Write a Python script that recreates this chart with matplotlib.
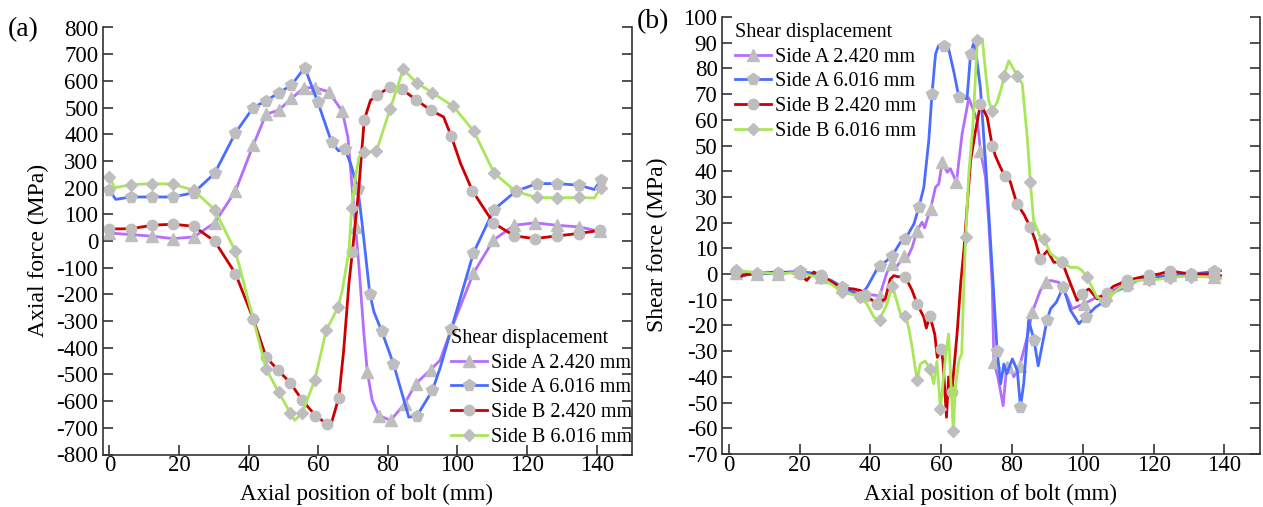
import matplotlib
matplotlib.use("Agg")
import matplotlib.pyplot as plt

plt.rcParams['font.family'] = ['Liberation Serif', 'DejaVu Serif']
plt.rcParams['axes.unicode_minus'] = False

# ---------------- colours / labels ----------------
series_labels = ["Side A 2.420 mm", "Side A 6.016 mm", "Side B 2.420 mm", "Side B 6.016 mm"]
line_colors = ["#b46eff", "#4a6cff", "#cc0000", "#a8e65a"]
marker_shapes = ["^", "p", "o", "D"]
marker_sizes = [8.5, 8.5, 7.5, 6.5]
marker_color = "#bebebe"

x_ticks = [0, 20, 40, 60, 80, 100, 120, 140]
y_ticks_a = list(range(-800, 801, 100))
y_ticks_b = list(range(-70, 101, 10))

# ---------------- (a) axial force ----------------
a_x_A242 = [0, 6.2, 12.2, 18.2, 24.2, 30.2, 36.2, 41.3, 45, 48.6, 52.3, 55.8, 59, 63, 66.9, 68.5, 70.7, 71.7,
            73.1, 74.1, 75.5, 77.4, 80.8, 84.8, 88, 92.3, 95, 98.2, 104.6, 110.3, 116.3, 122.3, 128.5, 134.8, 141]
a_y_A242 = [30, 24, 18, 9, 15, 68, 187, 359, 475, 490, 534, 574, 575, 559, 486, 390, 52, -97,
            -347, -491, -597, -654, -672, -610, -535, -482, -447, -331, -120, 3, 59, 68, 59, 53, 36]
a_m_A242 = [0, 1, 2, 3, 4, 5, 6, 7, 8, 9, 10, 11, 12, 13, 14, 16, 19, 21, 22, 23, 24, 25, 28, 29, 30, 31, 32, 33, 34]

a_x_A6 = [0, 1.8, 6.2, 12.2, 18.2, 24.2, 30.2, 36.2, 41.3, 45, 48.6, 52.3, 56.1, 59.9, 63.8, 65.8, 67.6, 69.3,
          71.4, 72.6, 74.8, 76, 78.2, 81.6, 86, 88.3, 92.8, 95.1, 98.2, 104.6, 110.5, 116.7, 122.8, 128.7, 135,
          139.3, 141.2]
a_y_A6 = [190, 156, 165, 165, 165, 181, 253, 405, 500, 525, 555, 584, 650, 519, 371, 338, 344, 290,
          193, 65, -197, -266, -337, -460, -660, -656, -560, -472, -331, -44, 118, 186, 215, 215, 209,
          193, 228]
a_m_A6 = [0, 2, 3, 4, 5, 6, 7, 8, 9, 10, 11, 12, 13, 14, 16, 18, 20, 22, 23, 25, 26, 28, 29, 30, 31, 32, 33, 34, 36]

a_x_B242 = [0, 6.2, 12.2, 18.2, 24.2, 30.2, 36.2, 41.3, 45, 48.5, 52, 55.4, 59.2, 62.6, 63.6, 65.9, 67.3, 68.8,
            69.8, 71.6, 73.2, 75, 77, 80.6, 84.1, 88, 92.3, 96, 98.2, 100.9, 104.3, 110.3, 116.3, 122.3, 128.5,
            134.8, 141]
a_y_B242 = [45, 46, 59, 63, 55, 0, -122, -291, -435, -485, -532, -597, -654, -687, -690, -587, -410, -160,
            -41, 190, 453, 527, 546, 578, 568, 530, 490, 465, 393, 290, 188, 68, 19, 9, 19,
            28, 40]
a_m_B242 = [0, 1, 2, 3, 4, 5, 6, 7, 8, 9, 10, 11, 12, 13, 15, 18, 20, 22, 23, 24, 25, 26, 28, 30, 31, 32, 33, 34, 35, 36]

a_x_B6 = [0, 1.5, 6.2, 12.2, 18.2, 24.2, 30.2, 36.2, 41.3, 45, 48.6, 52, 53.2, 55.4, 59, 62.3, 65.7, 66.9,
          68.8, 69.6, 70.7, 71.7, 73.1, 76.7, 80.6, 84.4, 88.3, 92.8, 98.8, 104.7, 110.5, 116.7, 122.8, 128.7,
          135, 139.3, 141.2]
a_y_B6 = [238, 200, 211, 215, 213, 190, 118, -39, -291, -479, -566, -645, -672, -645, -520, -335, -247, -185,
          -38, 125, 240, 315, 334, 336, 493, 643, 593, 555, 505, 411, 255, 186, 163, 162,
          163, 161, 200]
a_m_B6 = [0, 2, 3, 4, 5, 6, 7, 8, 9, 10, 11, 13, 14, 15, 16, 19, 22, 23, 24, 25, 26, 27, 28, 29, 30, 31, 32, 33, 34, 36]

# ---------------- (b) shear force ----------------
b_x_A242 = [2, 5, 8, 11, 14, 17, 20, 23, 26, 29, 32, 35, 38, 40, 42.6, 44.7, 46.1, 47.5, 49.4, 50.5,
            51.8, 53.2, 54.6, 55.3, 57, 58.4, 59.3, 60.3, 61.7, 62.6, 64.3, 65.9, 67.8, 70.2, 71.1,
            72.5, 73.4, 74.4, 74.9, 76, 77.5, 78.5, 79.6, 80.5, 82.2, 84.3, 85.7, 88, 89.5, 90.9,
            93.2, 95.6, 97, 100.3, 104, 106.5, 109, 112.5, 115, 118.6, 121, 124.7, 127.5, 130.7, 134, 137, 138.5]
b_y_A242 = [0.5, 0, 0, 0.5, 0, 0.5, 1, 0, -1, -3, -5, -6, -8, -8, -8.5, 0.7, 4, 3, 6.9, 6.5,
            10.4, 16.9, 20.2, 18, 25.4, 33.8, 35, 43.5, 39.6, 41, 35.7, 54.5, 68.5, 59.7, 48,
            37.7, 20.8, -3.8, -34.3, -40, -51.2, -36, -36.3, -40, -35.6, -24.6, -14.9, -6.4, -3.2, -2.5,
            -3.2, -9, -13.5, -11.6, -9, -8, -6, -3.5, -2.5, -1.5, -1, -0.5, 0, 0, -0.5, -1, -1.2]
b_m_A242 = [0, 2, 4, 6, 8, 10, 12, 14, 16, 18, 21, 24, 27, 30, 34, 38, 41, 44, 46, 48, 53, 55, 57, 59, 61, 63, 65]

b_x_A6 = [2, 3.5, 5, 8, 11, 14, 17, 20, 23, 26,
          29, 32, 35, 37.2, 39.1, 41.9, 42.6, 44.7, 46.2, 48.5,
          49.9, 52.3, 53.7, 55.1, 56.5, 57.4, 58.4, 59.3, 60.7, 62.1,
          63.6, 65, 67.3, 68.3, 69.4, 71.1, 73, 74.5, 75.8, 76.8,
          77.7, 78.5, 80.1, 81.5, 82.4, 83.3, 84.7, 86.2, 87.4, 89.9,
          90.9, 92.5, 94.5, 96.5, 98.9, 100.8, 103.5, 106.4, 109, 112.5,
          115.5, 118.6, 121.5, 124.7, 127.5, 130.7, 134, 137, 138.9]
b_y_A6 = [0.5, -1, -0.3, 0, 0.3, 0.3, 0.8, 1, 0.5, -1,
          -2.5, -5, -7, -8.4, -5, 2, 3, 5.3, 7.2, 12.4,
          13.7, 19.5, 26, 33.8, 52, 70, 85.6, 89, 88.8, 87.6,
          78.5, 68.8, 68.2, 85.6, 90.9, 72, 33.5, 0, -29.8, -42.7,
          -35, -38.8, -33, -37.5, -51.8, -42.7, -18, -25.5, -35.7, -17.9,
          -13.5, -11, -5, -14, -19.3, -16.8, -13, -10.3, -7, -4.5,
          -2.5, -1.3, -1, -0.5, 0, 0, 0.5, 1, 1.3]
b_m_A6 = [0, 3, 5, 7, 9, 11, 13, 16, 18, 20, 22, 25, 28, 31, 33, 38, 44, 47, 49, 52, 55, 57, 59, 61, 63, 65, 67]

b_x_B242 = [2, 3.5, 6, 8, 11, 14, 17, 20, 22, 24,
            26, 29, 32, 35.3, 37.2, 38.5, 40, 41.9, 44.2, 45.6,
            46.6, 47.6, 49.9, 51.8, 53.2, 55.1, 55.8, 56.8, 58.2, 58.9,
            60, 60.5, 61.5, 62.1, 63, 64.5, 65.5, 66.4, 68.3, 69.7,
            71.1, 73, 74.4, 75.3, 76.7, 77.9, 79.5, 81.4, 83.3, 85.2,
            86.6, 88, 90, 91.8, 94.2, 96, 98.4, 99.8, 101.7, 104.1,
            106.7, 108.6, 112.5, 115.5, 118.6, 121.5, 124.7, 127.5, 130.7, 134,
            137, 138.9]
b_y_B242 = [1, -0.6, 0, 0, 0.7, 0.5, 0.7, 0, -2.5, 0.8,
            -0.5, -3, -5.5, -5.8, -6.4, -8, -9.7, -11.6, -9.7, -2,
            -0.6, -1, -1.2, -6.4, -11.6, -16.8, -21, -16.2, -23.5, -32.4,
            -29, -34, -55.7, -40, -46, -23, -3.8, 9.1, 44, 55.8,
            66.2, 61, 50, 46, 41.6, 38.3, 36, 27.3, 23.4, 18.2,
            13, 5.9, 9.1, 4.6, 4.5, -1.9, -10.3, -7.7, -5.8, -9.7,
            -7.4, -4.8, -2.5, -1.5, -0.5, 0, 1.3, 0.6, 0, 0,
            0, -0.6]
b_m_B242 = [0, 3, 5, 7, 10, 12, 15, 17, 22, 24, 27, 30, 34, 40, 42, 45, 47, 49, 51, 54, 57, 60, 62, 64, 66, 68, 70]

b_x_B6 = [2, 5, 8, 11, 14, 17, 20, 23, 26, 29,
          32, 35, 37.2, 39, 41, 42.6, 44.7, 46.2, 48.5, 49.9,
          50.8, 51.8, 53.2, 54.1, 55.5, 56.8, 57.9, 58.8, 59.8, 61.2,
          62.1, 63.4, 64, 65, 65.8, 66.4, 66.9, 67.8, 69, 70.2,
          71.6, 72.5, 73.4, 74.4, 75.8, 77.2, 77.7, 79.1, 81.5, 82.9,
          84.3, 85.2, 86.1, 88, 89, 90.9, 94.2, 96.5, 98.4, 99.7,
          101.2, 104, 106.4, 109, 112.5, 115.5, 118.6, 121.5, 124.7, 127.5,
          130.7, 134, 137, 138.9]
b_y_B6 = [1.5, 1, 0.5, 0.5, 0, 0.5, 0.5, -0.5, -1.5, -4,
          -7, -8, -9, -11.6, -16.8, -17.7, -11.6, -4.5, -15.5, -16.2,
          -20.7, -28.5, -41.4, -35, -33.8, -36.9, -42.7, -34, -52.5, -32.4,
          -23.3, -60.9, -44, -33.7, -31, -3.8, 14.3, 39, 58.4, 90.9,
          91.5, 79.2, 67.5, 63.6, 66.8, 73.3, 77.2, 83, 77.2, 74,
          53.2, 35.7, 20.8, 14.3, 13.7, 7.9, 4.6, 2.6, 2.6, 1.5,
          -1.2, -9, -10.3, -7, -3.5, -2.5, -2.2, -2, -1.5, -1,
          -1, -1, -1.3, -1.9]
b_m_B6 = [0, 2, 4, 6, 8, 10, 12, 15, 17, 19, 22, 25, 28, 31, 36, 39, 43, 46, 48, 51, 54, 56, 60, 62, 64, 66, 68, 70, 72]

panel_a = [(a_x_A242, a_y_A242, a_m_A242), (a_x_A6, a_y_A6, a_m_A6),
           (a_x_B242, a_y_B242, a_m_B242), (a_x_B6, a_y_B6, a_m_B6)]
panel_b = [(b_x_A242, b_y_A242, b_m_A242), (b_x_A6, b_y_A6, b_m_A6),
           (b_x_B242, b_y_B242, b_m_B242), (b_x_B6, b_y_B6, b_m_B6)]

W, H = 1263, 507
fig = plt.figure(figsize=(W / 100, H / 100), dpi=100)


def px_axes(l, t, r, b):
    return fig.add_axes([l / W, 1 - b / H, (r - l) / W, (b - t) / H])


ax_a = px_axes(102.5, 27.5, 631.5, 454.5)
ax_b = px_axes(721.7, 17, 1259.8, 454)

for ax, data in ((ax_a, panel_a), (ax_b, panel_b)):
    for (xs, ys, mk), col, shp, ms, lab in zip(data, line_colors, marker_shapes, marker_sizes, series_labels):
        ax.plot(xs, ys, color=col, lw=2.0, marker=shp, markersize=ms, markevery=mk,
                markerfacecolor=marker_color, markeredgecolor=marker_color, label=lab)

TICK_FS = 16.5
LABEL_FS = 16.5
for ax in (ax_a, ax_b):
    ax.set_xlim(-2, 150)
    ax.set_xticks(x_ticks)
    ax.spines['top'].set_visible(False)
    for s in ('left', 'right', 'bottom'):
        ax.spines[s].set_linewidth(1.2)
        ax.spines[s].set_color('#333333')
    ax.tick_params(direction='in', length=7, width=1.2, colors='#333333', labelcolor='black',
                   labelsize=TICK_FS, right=True, top=False, labelright=False)
    ax.tick_params(axis='x', pad=0.6)
    ax.tick_params(axis='y', pad=3)

ax_a.set_ylim(-800, 800)
ax_a.set_yticks(y_ticks_a)
ax_b.set_ylim(-70, 100)
ax_b.set_yticks(y_ticks_b)

ax_a.set_xlabel("Axial position of bolt (mm)", fontsize=LABEL_FS, va='center')
ax_a.xaxis.set_label_coords(0.5, (454.5 - 494) / 427)
ax_a.set_ylabel("Axial force (MPa)", fontsize=LABEL_FS + 0.5, va='center')
ax_a.yaxis.set_label_coords((38 - 102.5) / 529, (454.5 - 250) / 427)

ax_b.set_xlabel("Axial position of bolt (mm)", fontsize=LABEL_FS, va='center')
ax_b.xaxis.set_label_coords(0.5, (454 - 494) / 437)
ax_b.set_ylabel("Shear force (MPa)", fontsize=LABEL_FS + 0.5, va='center')
ax_b.yaxis.set_label_coords((657 - 721.7) / 538, (454 - 245) / 437)

fig.text(8 / W, 1 - 30 / H, "(a)", fontsize=20, ha='left', va='center')
fig.text(637 / W, 1 - 22 / H, "(b)", fontsize=20, ha='left', va='center')

leg_kw = dict(frameon=False, fontsize=14.5, title_fontsize=14.5, handlelength=1.8, handletextpad=0.18,
              labelspacing=0.28, borderpad=0, borderaxespad=0, numpoints=1, alignment='left')
ax_a.legend(title="Shear displacement", loc='upper left',
            bbox_to_anchor=(451 / W, 1 - 329 / H), bbox_transform=fig.transFigure, **leg_kw)
ax_b.legend(title="Shear displacement", loc='upper left',
            bbox_to_anchor=(735 / W, 1 - 23 / H), bbox_transform=fig.transFigure, **leg_kw)

fig.savefig("out.png", dpi=100)
